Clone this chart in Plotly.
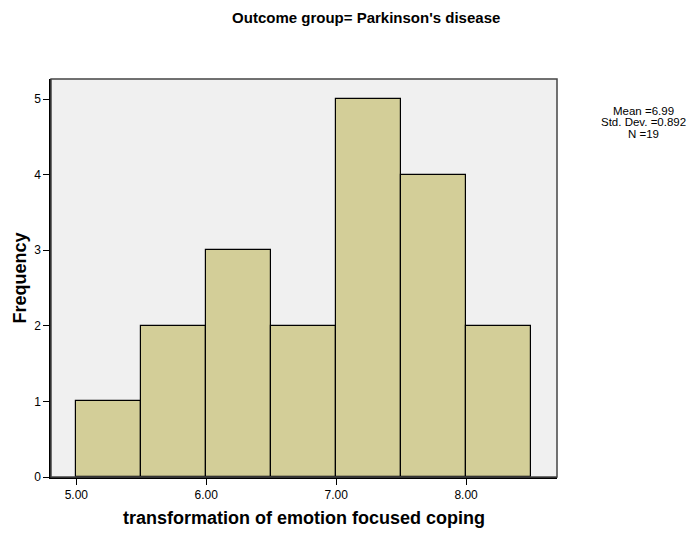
import plotly.graph_objects as go

# Интервалы гистограммы и частоты
bin_starts = [5.0, 5.5, 6.0, 6.5, 7.0, 7.5, 8.0]
bin_width = 0.5
frequency = [1, 2, 3, 2, 5, 4, 2]

x_ticks = [5.0, 6.0, 7.0, 8.0]
x_tick_labels = ["5.00", "6.00", "7.00", "8.00"]
y_ticks = [0, 1, 2, 3, 4, 5]

stats_lines = ["Mean =6.99", "Std. Dev. =0.892", "N =19"]

font_name = "Liberation Sans, Arial, sans-serif"

fig = go.Figure()
fig.add_trace(go.Bar(
    x=[s + bin_width / 2 for s in bin_starts],
    y=frequency,
    width=bin_width,
    marker=dict(color="#D3CE98", line=dict(color="#000000", width=1.2)),
    hoverinfo="y",
))

fig.update_xaxes(
    range=[4.805, 8.70],
    tickvals=x_ticks,
    ticktext=x_tick_labels,
    ticks="outside", ticklen=6, tickwidth=1.2, tickcolor="#000000",
    showgrid=False, zeroline=False, automargin=False,
    showline=True, linecolor="#000000", linewidth=1.5, mirror=False,
    tickfont=dict(size=12, color="#000000"),
    title=dict(text="<b>transformation of emotion focused coping</b>",
               font=dict(size=18, color="#000000"), standoff=17),
)
fig.update_yaxes(
    range=[0, 5.265],
    tickvals=y_ticks,
    ticks="outside", ticklen=6, tickwidth=1.2, tickcolor="#000000",
    showgrid=False, zeroline=False, automargin=False,
    showline=True, linecolor="#000000", linewidth=1.5,
    tickfont=dict(size=12, color="#000000"),
    title=dict(text="<b>Frequency</b>", font=dict(size=18, color="#000000"), standoff=3),
)

# Рамка области построения (верх и право)
fig.add_shape(type="rect", xref="paper", yref="paper", x0=0, y0=0, x1=1, y1=1,
              line=dict(color="#444444", width=1.5), layer="above")

# Статистика справа, строки с плотным интервалом как в SPSS
for i, line in enumerate(stats_lines):
    fig.add_annotation(
        text=line, xref="paper", yref="paper", x=1.170, y=0.9205 - i * 0.0295,
        xanchor="center", yanchor="middle", showarrow=False,
        font=dict(size=11.5, color="#000000"),
    )

# body имеет отступ 8px, поэтому фигура меньше окна, чтобы не было прокрутки
fig.update_layout(
    width=681, height=520,
    margin=dict(l=43, r=132, t=71, b=51, autoexpand=False),
    plot_bgcolor="#F0F0F0",
    paper_bgcolor="#FFFFFF",
    font=dict(family=font_name),
    showlegend=False,
    bargap=0,
    title=dict(text="<b>Outcome group= Parkinson's disease</b>", x=0.526, xanchor="center",
               y=0.981, yanchor="middle", font=dict(size=15, color="#000000")),
)

fig.write_html("out.html")
